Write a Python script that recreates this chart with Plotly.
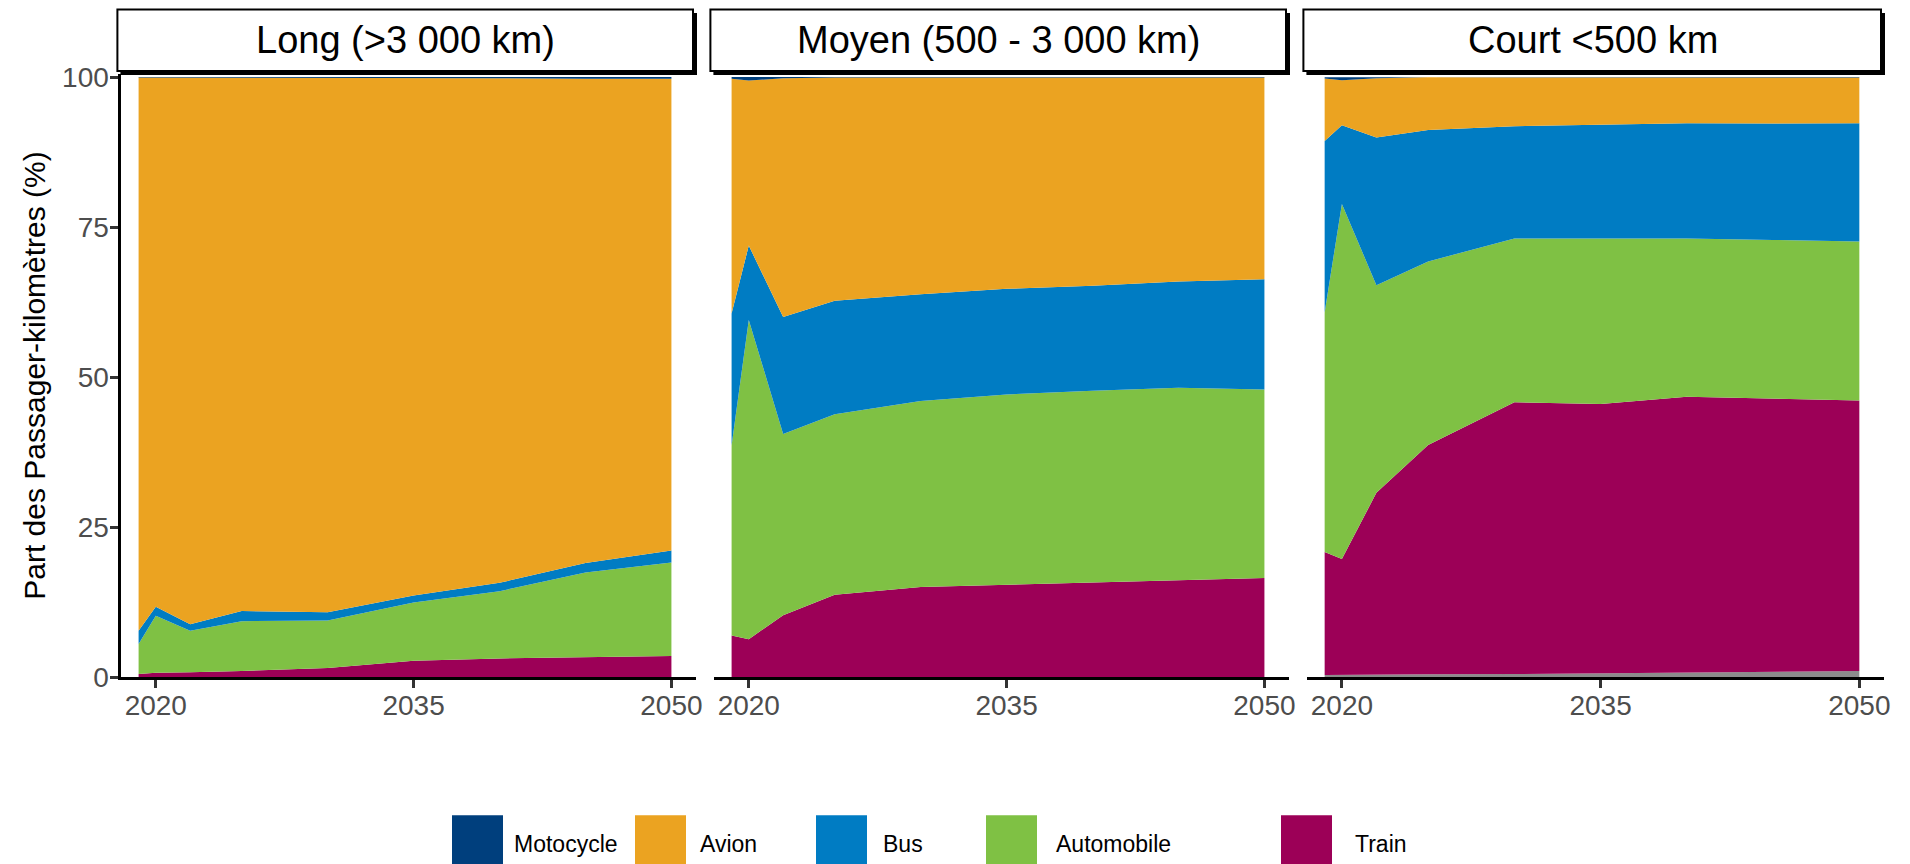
import plotly.graph_objects as go

# Années des scénarios
years = [2019, 2020, 2022, 2025, 2030, 2035, 2040, 2045, 2050]

panels = ["Long (>3 000 km)", "Moyen (500 - 3 000 km)", "Court <500 km"]
modes = ["Motocycle", "Avion", "Bus", "Automobile", "Train"]

# Part des passager-km (%) - Long (>3 000 km)
long_autre = [0.0, 0.0, 0.0, 0.0, 0.0, 0.0, 0.0, 0.0, 0.0]
long_train = [0.5, 0.7, 0.8, 1.0, 1.5, 2.7, 3.1, 3.3, 3.5]
long_auto = [5.0, 9.5, 6.9, 8.3, 7.9, 9.7, 11.2, 14.1, 15.6]
long_bus = [2.2, 1.5, 1.1, 1.7, 1.4, 1.2, 1.4, 1.6, 2.0]
long_avion = [92.2, 88.2, 91.1, 88.9, 89.1, 86.3, 84.1, 80.7, 78.6]
long_moto = [0.1, 0.1, 0.1, 0.1, 0.1, 0.1, 0.2, 0.3, 0.3]

# Moyen (500 - 3 000 km)
moyen_autre = [0.0, 0.0, 0.0, 0.0, 0.0, 0.0, 0.0, 0.0, 0.0]
moyen_train = [6.9, 6.3, 10.3, 13.7, 15.0, 15.4, 15.7, 16.2, 16.5]
moyen_auto = [31.7, 53.2, 30.2, 30.1, 31.0, 31.7, 32.0, 32.0, 31.4]
moyen_bus = [22.0, 12.4, 19.5, 18.9, 17.8, 17.6, 17.5, 17.7, 18.4]
moyen_avion = [39.1, 27.5, 39.8, 37.2, 36.1, 35.2, 34.7, 34.0, 33.6]
moyen_moto = [0.3, 0.6, 0.2, 0.1, 0.1, 0.1, 0.1, 0.1, 0.1]

# Court <500 km
court_autre = [0.35, 0.35, 0.4, 0.45, 0.5, 0.6, 0.7, 0.85, 1.0]
court_train = [20.5, 19.3, 30.3, 38.2, 45.3, 44.9, 46.0, 45.6, 45.1]
court_auto = [39.9, 59.2, 34.6, 30.6, 27.3, 27.6, 26.4, 26.4, 26.5]
court_bus = [28.6, 13.1, 24.6, 21.9, 18.7, 19.0, 19.2, 19.4, 19.7]
court_avion = [10.4, 7.5, 9.9, 8.8, 8.1, 7.8, 7.6, 7.6, 7.6]
court_moto = [0.2, 0.5, 0.2, 0.1, 0.1, 0.1, 0.1, 0.1, 0.1]

colors = {
    "Motocycle": "#003F7D",
    "Avion": "#EBA321",
    "Bus": "#007CC3",
    "Automobile": "#7FC144",
    "Train": "#9C0057",
    "Autre": "#8C8C8C",
}

data = [
    {"Autre": long_autre, "Train": long_train, "Automobile": long_auto,
     "Bus": long_bus, "Avion": long_avion, "Motocycle": long_moto},
    {"Autre": moyen_autre, "Train": moyen_train, "Automobile": moyen_auto,
     "Bus": moyen_bus, "Avion": moyen_avion, "Motocycle": moyen_moto},
    {"Autre": court_autre, "Train": court_train, "Automobile": court_auto,
     "Bus": court_bus, "Avion": court_avion, "Motocycle": court_moto},
]

# la page html ajoute une marge de 8 px autour du graphique
OFF = 8
W, H = 1910, 864
ML = 121 - OFF
MT = 74 - OFF
MB = H - (676.7 - OFF)
MR = W - (1884 - OFF)
PW, PH = W - ML - MR, H - MT - MB
FONT = "Liberation Sans, Arial, sans-serif"


def px(xs):
    # position écran -> coordonnée papier
    return (xs - OFF - ML) / PW


def py(ys):
    return (H - MB - (ys - OFF)) / PH


panel_px = [(121.4, 696.0), (714.4, 1289.0), (1307.4, 1884.0)]

fig = go.Figure()

stack_order = ["Autre", "Train", "Automobile", "Bus", "Avion", "Motocycle"]
for i, d in enumerate(data):
    suffix = "" if i == 0 else str(i + 1)
    for m in stack_order:
        fig.add_trace(go.Scatter(
            x=years, y=d[m], name=m,
            mode="lines", line=dict(width=0, color=colors[m]),
            stackgroup=f"g{i}", fillcolor=colors[m],
            xaxis="x" + suffix, yaxis="y" + suffix,
            showlegend=False,
        ))

layout = dict(
    width=W, height=H,
    margin=dict(l=ML, r=MR, t=MT, b=MB),
    plot_bgcolor="white", paper_bgcolor="white",
    font=dict(family=FONT, color="black"),
    showlegend=False,
)

shapes = []
annotations = []
for i, (x0, x1) in enumerate(panel_px):
    suffix = "" if i == 0 else str(i + 1)
    layout["xaxis" + suffix] = dict(
        domain=[px(x0), px(x1)], range=[2018.0, 2051.43],
        anchor="y" + suffix,
        tickvals=[2020, 2035, 2050],
        showline=True, linecolor="black", linewidth=3,
        ticks="outside", ticklen=8, tickwidth=2.5, tickcolor="#333333",
        tickfont=dict(size=28, color="#4D4D4D"), ticklabelstandoff=-7,
        showgrid=False, zeroline=False,
    )
    ydict = dict(
        domain=[0, 1], range=[0, 100.5], anchor="x" + suffix,
        showgrid=False, zeroline=False,
    )
    if i == 0:
        ydict.update(
            tickvals=[0, 25, 50, 75, 100],
            showline=True, linecolor="black", linewidth=3,
            ticks="outside", ticklen=8, tickwidth=2.5, tickcolor="#333333",
            tickfont=dict(size=28, color="#4D4D4D"), ticklabelstandoff=-4,
            title=dict(text="Part des Passager-kilomètres (%)",
                       font=dict(size=30, color="black"), standoff=8),
        )
    else:
        ydict.update(matches="y", showticklabels=False, showline=False, ticks="")
    layout["yaxis" + suffix] = ydict

    # bandeau de facette avec ombre
    shapes.append(dict(type="rect", xref="paper", yref="paper",
                       x0=px(x0 - 1), x1=px(x1 + 1), y0=py(75), y1=py(13),
                       fillcolor="black", line=dict(width=0)))
    shapes.append(dict(type="rect", xref="paper", yref="paper",
                       x0=px(x0 - 4), x1=px(x1 - 3), y0=py(71), y1=py(9.5),
                       fillcolor="white", line=dict(color="black", width=2)))
    annotations.append(dict(text=panels[i], xref="paper", yref="paper",
                            x=px((x0 + x1) / 2 - 3), y=py(40),
                            xanchor="center", yanchor="middle",
                            showarrow=False, font=dict(size=38, color="black")))

# légende en bas
key_x = [452, 635, 816, 986, 1281]
label_x = [512, 698, 881, 1054, 1353]
for m, kx, lx in zip(modes, key_x, label_x):
    shapes.append(dict(type="rect", xref="paper", yref="paper",
                       x0=px(kx), x1=px(kx + 51), y0=py(815), y1=py(880),
                       fillcolor=colors[m], line=dict(width=0)))
    annotations.append(dict(text=m, xref="paper", yref="paper",
                            x=px(lx), y=py(844), xanchor="left", yanchor="middle",
                            showarrow=False, font=dict(size=23, color="black")))

layout["shapes"] = shapes
layout["annotations"] = annotations
fig.update_layout(**layout)

fig.write_html("out.html")
